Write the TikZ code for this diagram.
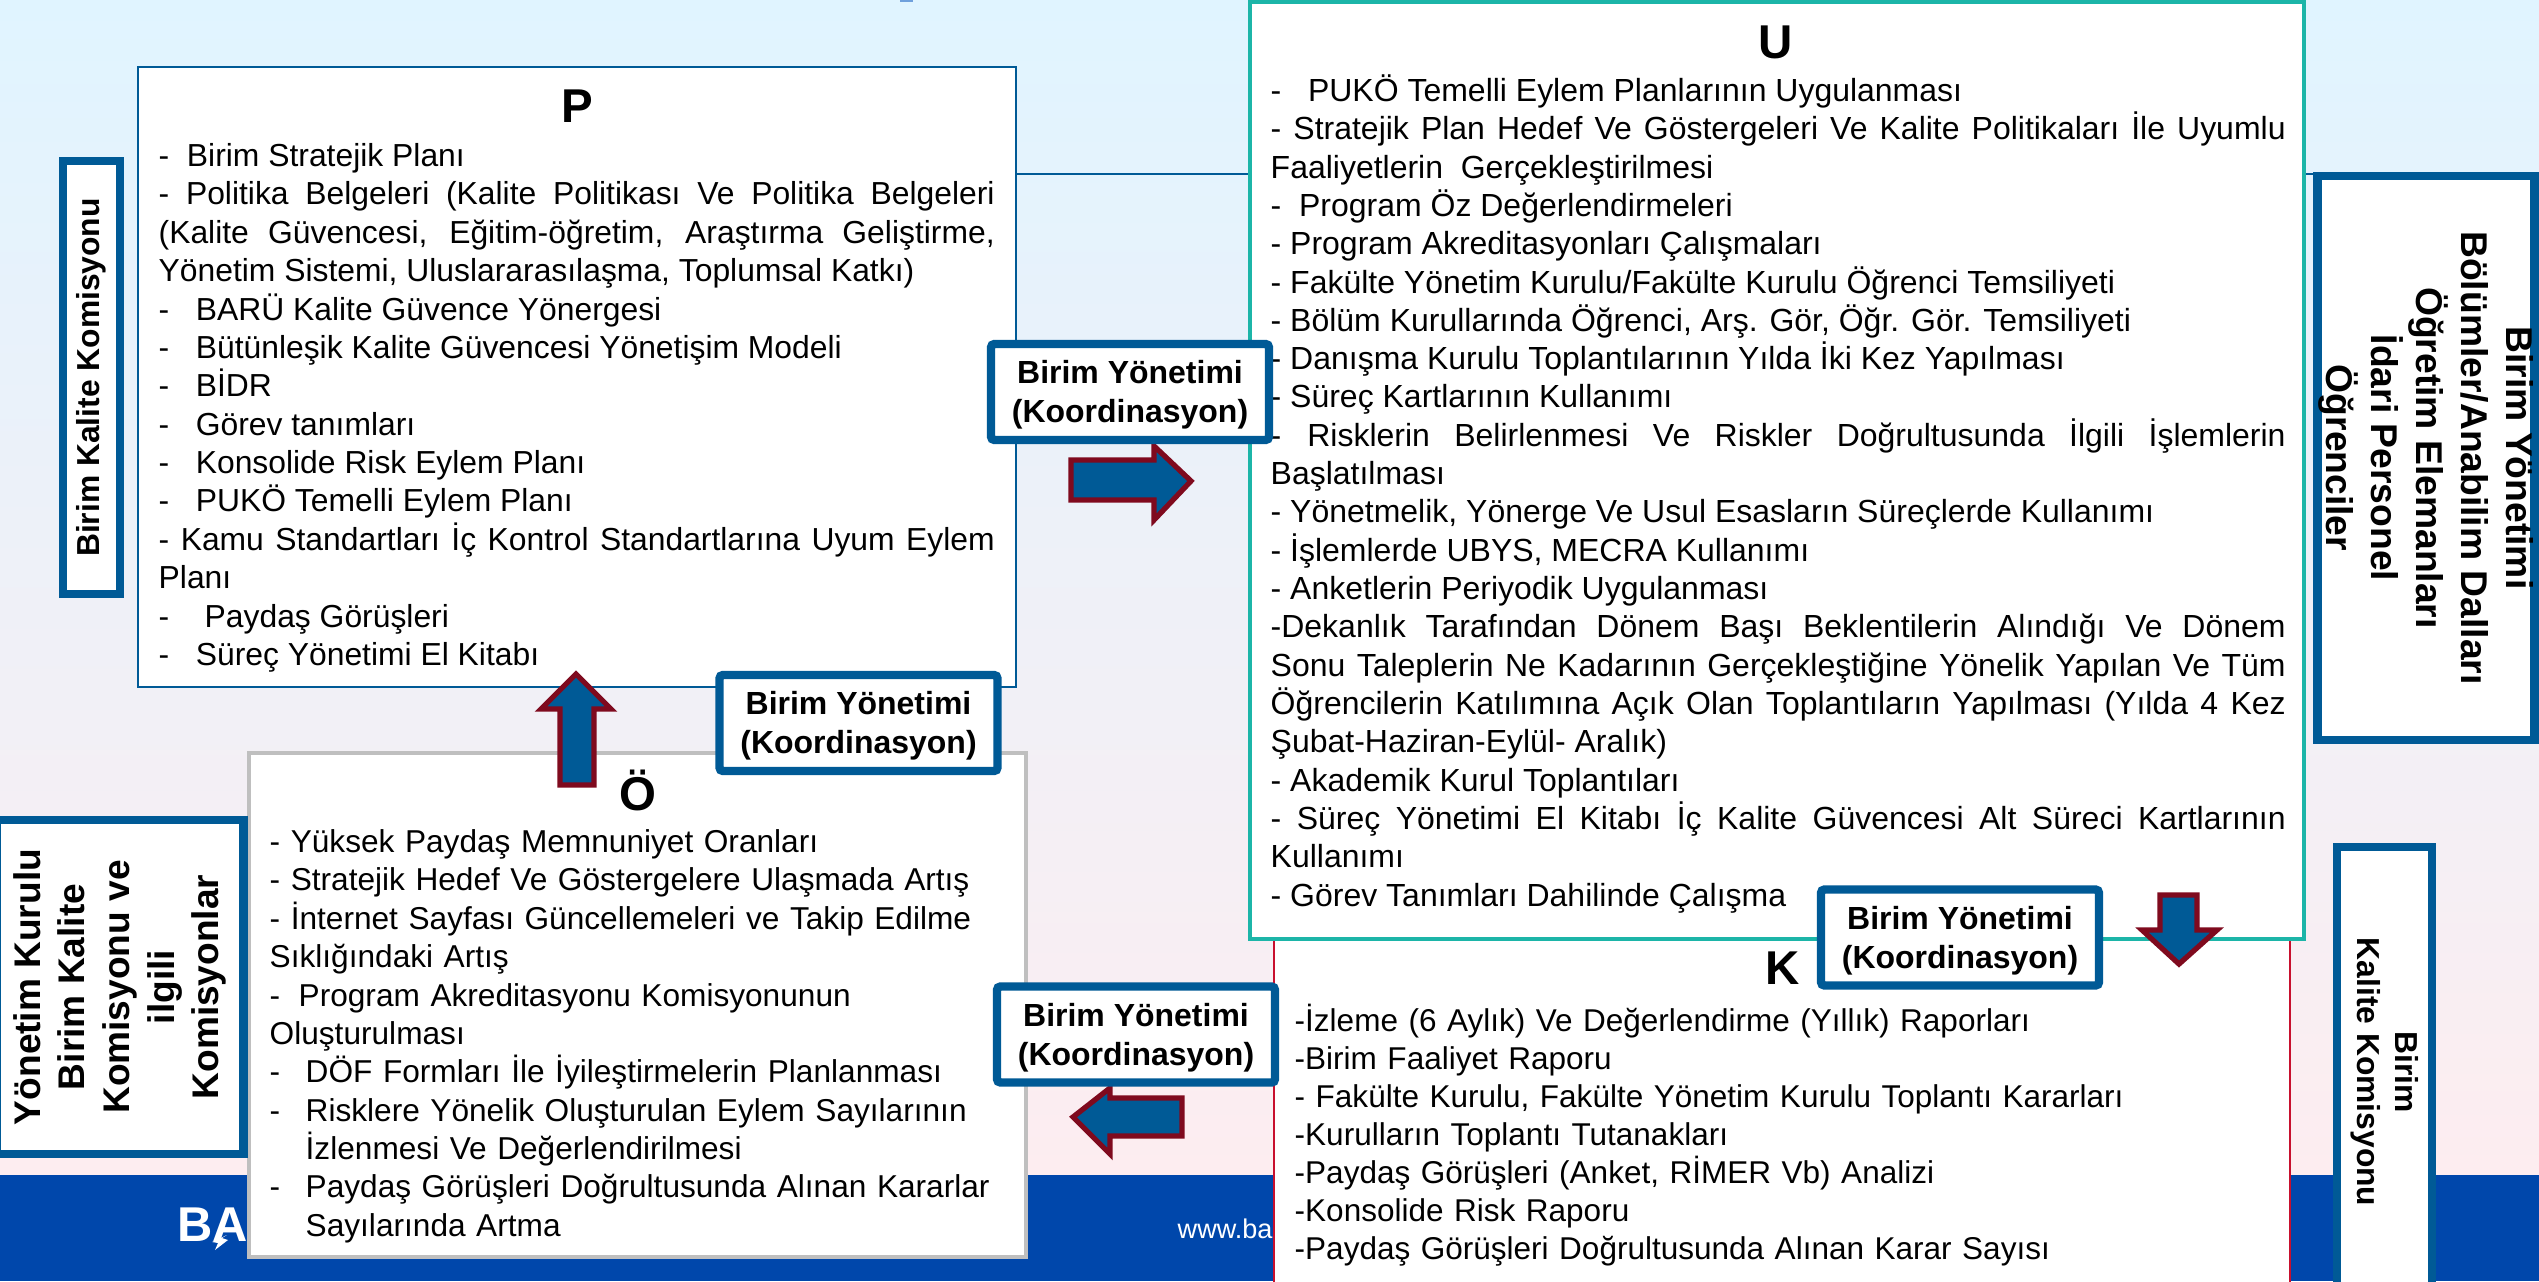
\documentclass[tikz,border=0pt]{standalone}
\usepackage{fontspec}
\setmainfont{Liberation Sans}
\usetikzlibrary{positioning}
\definecolor{topsky}{HTML}{E0F4FF}
\definecolor{lowpink}{HTML}{FDEDF0}
\definecolor{footblue}{HTML}{0047AB}
\definecolor{boxblue}{HTML}{005A96}
\definecolor{tealline}{HTML}{1CB5A8}
\definecolor{redline}{HTML}{C8102E}
\definecolor{arrowred}{HTML}{7F0A1E}
\definecolor{slivercol}{HTML}{6FA0DC}
\newcommand{\bodyfont}[2]{\fontsize{#1}{#2}\selectfont\lineskiplimit=-6pt\hyphenpenalty=10000\exhyphenpenalty=10000\tolerance=9999\emergencystretch=3cm}
\tikzset{
  planbox/.style={fill=white,line width=0.8pt,inner sep=0pt},
  plantitle/.style={font=\fontsize{13.5}{15}\selectfont\bfseries,inner sep=0pt},
  plantext/.style={inner sep=0pt,anchor=north west},
  duzbox/.style={draw=boxblue,fill=white,line width=2.4pt,rounded corners=1pt,minimum width=2.78cm,minimum height=0.96cm},
  duztext/.style={inner sep=0pt,align=center,yshift=-0.03cm,font=\fontsize{9.1}{11}\selectfont\bfseries},
  sidebox/.style={draw=boxblue,fill=white,line width=2.3pt,inner sep=0pt,align=center},
  blockarrow/.style={draw=arrowred,fill=boxblue,line width=1.5pt,miter limit=10},
}
\begin{document}
\begin{tikzpicture}[x=1cm,y=-1cm]
\path[use as bounding box,clip] (0,0) rectangle (25.39,12.81);
\shade[top color=topsky,bottom color=lowpink] (0,0) rectangle (25.39,11.75);
\fill[footblue] (0,11.75) rectangle (25.39,12.81);
\fill[slivercol] (9.0,0) rectangle (9.13,0.015);
\node[font=\fontsize{13.9}{15}\selectfont\bfseries,text=white,anchor=west,inner sep=0pt] (logo) at (1.77,12.25) {BA};
\fill[white] (2.27,12.35) -- (2.12,12.42) -- (2.18,12.43) -- (2.15,12.5) -- (2.28,12.4) -- (2.22,12.38) -- cycle;
\node[font=\fontsize{7.7}{9}\selectfont,text=white,anchor=west,inner sep=0pt] (webaddress) at (11.77,12.29) {www.ba};

\node[planbox,draw=boxblue,minimum width=8.78cm,minimum height=6.2cm] (Pbox) at (5.77,3.77) {};
\node[plantitle] (Ptitle) at (5.77,1.06) {P};
\node[plantext,font=\bodyfont{9.06}{10.92},text width=8.36cm,align=justify] (Ptext) at (1.58,1.39) {\strut
-\ \ Birim Stratejik Planı\par
- Politika Belgeleri (Kalite Politikası Ve Politika Belgeleri (Kalite Güvencesi, Eğitim-öğretim, Araştırma Geliştirme, Yönetim Sistemi, Uluslararasılaşma, Toplumsal Katkı)\par
-\ \ \ BARÜ Kalite Güvence Yönergesi\par
-\ \ \ Bütünleşik Kalite Güvencesi Yönetişim Modeli\par
-\ \ \ BİDR\par
-\ \ \ Görev tanımları\par
-\ \ \ Konsolide Risk Eylem Planı\par
-\ \ \ PUKÖ Temelli Eylem Planı\par
- Kamu Standartları İç Kontrol Standartlarına Uyum Eylem Planı\par
-\ \ \ \ Paydaş Görüşleri\par
-\ \ \ Süreç Yönetimi El Kitabı};

\coordinate (Plink) at (10.16,1.74);
\node[sidebox,minimum width=5.64cm,minimum height=2.17cm,rotate=-90,font=\fontsize{10.6}{12.8}\selectfont\bfseries] (Bolumbox) at (24.26,4.58) {Birim Yönetimi\\Bölümler/Anabilim Dalları\\Öğretim Elemanları\\İdari Personel\\Öğrenciler};
\draw[boxblue,line width=0.8pt] (Plink) -- (Plink -| Bolumbox.north);

\node[planbox,draw=redline,minimum width=10.16cm,minimum height=4.6cm] (Kbox) at (17.82,10.8) {};
\node[plantitle] (Ktitle) at (17.83,9.68) {K};
\node[plantext,font=\bodyfont{8.97}{10.85},text width=9.8cm,align=left] (Ktext) at (12.94,10.03) {\strut
-İzleme (6 Aylık) Ve Değerlendirme (Yıllık) Raporları\\
-Birim Faaliyet Raporu\\
- Fakülte Kurulu, Fakülte Yönetim Kurulu Toplantı Kararları\\
-Kurulların Toplantı Tutanakları\\
-Paydaş Görüşleri (Anket, RİMER Vb) Analizi\\
-Konsolide Risk Raporu\\
-Paydaş Görüşleri Doğrultusunda Alınan Karar Sayısı};

\node[planbox,draw=black!25,line width=1.2pt,minimum width=7.77cm,minimum height=5.04cm] (Obox) at (6.375,10.05) {};
\node[plantitle] (Otitle) at (6.38,7.9) {Ö};
\node[plantext,font=\bodyfont{9.0}{10.92},text width=7.5cm,align=left] (Otext) at (2.69,8.25) {\strut
- Yüksek Paydaş Memnuniyet Oranları\\
- Stratejik Hedef Ve Göstergelere Ulaşmada Artış\\
- İnternet Sayfası Güncellemeleri ve Takip Edilme\\
Sıklığındaki Artış\\
\makebox[0.29cm][l]{-}Program Akreditasyonu Komisyonunun\\
Oluşturulması\\
\makebox[0.36cm][l]{-}DÖF Formları İle İyileştirmelerin Planlanması\\
\makebox[0.36cm][l]{-}Risklere Yönelik Oluşturulan Eylem Sayılarının\\
\hspace*{0.36cm}İzlenmesi Ve Değerlendirilmesi\\
\makebox[0.36cm][l]{-}Paydaş Görüşleri Doğrultusunda Alınan Kararlar\\
\hspace*{0.36cm}Sayılarında Artma};

\node[planbox,draw=tealline,line width=1pt,minimum width=10.54cm,minimum height=9.37cm] (Ubox) at (17.77,4.705) {};
\node[plantitle] (Utitle) at (17.76,0.42) {U};
\node[plantext,font=\bodyfont{9.1}{10.9},text width=10.15cm,align=justify] (Utext) at (12.7,0.74) {\strut
-\ \ \ PUKÖ Temelli Eylem Planlarının Uygulanması\par
- Stratejik Plan Hedef Ve Göstergeleri Ve Kalite Politikaları İle Uyumlu Faaliyetlerin\ \ Gerçekleştirilmesi\par
-\ \ Program Öz Değerlendirmeleri\par
- Program Akreditasyonları Çalışmaları\par
- Fakülte Yönetim Kurulu/Fakülte Kurulu Öğrenci Temsiliyeti\par
- Bölüm Kurullarında Öğrenci, Arş. Gör, Öğr. Gör. Temsiliyeti\par
- Danışma Kurulu Toplantılarının Yılda İki Kez Yapılması\par
- Süreç Kartlarının Kullanımı\par
-\hspace{0.26cm}Risklerin Belirlenmesi Ve Riskler Doğrultusunda İlgili İşlemlerin Başlatılması\par
- Yönetmelik, Yönerge Ve Usul Esasların Süreçlerde Kullanımı\par
- İşlemlerde UBYS, MECRA Kullanımı\par
- Anketlerin Periyodik Uygulanması\par
-Dekanlık Tarafından Dönem Başı Beklentilerin Alındığı Ve Dönem Sonu Taleplerin Ne Kadarının Gerçekleştiğine Yönelik Yapılan Ve Tüm Öğrencilerin Katılımına Açık Olan Toplantıların Yapılması (Yılda 4 Kez Şubat-Haziran-Eylül- Aralık)\par
- Akademik Kurul Toplantıları\par
- Süreç Yönetimi El Kitabı İç Kalite Güvencesi Alt Süreci Kartlarının Kullanımı\par
- Görev Tanımları Dahilinde Çalışma};

\node[sidebox,minimum width=4.33cm,minimum height=0.57cm,rotate=90,font=\fontsize{9.05}{10.8}\selectfont\bfseries] (Komisyonbox) at (0.915,3.775) {Birim Kalite Komisyonu};
\node[sidebox,minimum width=3.34cm,minimum height=2.47cm,rotate=90,font=\fontsize{10.55}{12.7}\selectfont\bfseries] (Yonetimbox) at (1.2,9.87) {Yönetim Kurulu\\Birim Kalite\\Komisyonu ve\\ilgili\\Komisyonlar};
\node[sidebox,minimum width=4.5cm,minimum height=0.95cm,rotate=-90,font=\fontsize{9.05}{10.7}\selectfont\bfseries] (Kalitebox) at (23.845,10.72) {Birim\\Kalite Komisyonu};

\draw[blockarrow] (10.71,4.6) -- (11.54,4.6) -- (11.54,4.46) -- (11.91,4.81) -- (11.54,5.2) -- (11.54,5.0) -- (10.71,5.0) -- cycle;
\draw[blockarrow] (5.6,7.85) -- (5.6,7.09) -- (5.41,7.09) -- (5.76,6.74) -- (6.11,7.09) -- (5.94,7.09) -- (5.94,7.85) -- cycle;
\draw[blockarrow] (11.82,10.98) -- (11.1,10.98) -- (11.1,10.88) -- (10.73,11.17) -- (11.1,11.54) -- (11.1,11.36) -- (11.82,11.36) -- cycle;
\draw[blockarrow] (21.6,8.95) -- (21.97,8.95) -- (21.97,9.3) -- (22.17,9.3) -- (21.79,9.64) -- (21.42,9.3) -- (21.6,9.3) -- cycle;

\node[duzbox] (Duzen1) at (11.3,3.92) {};
\node[duztext] (Duzen1text) at (Duzen1) {Birim Yönetimi\\(Koordinasyon)};
\node[duzbox] (Duzen2) at (8.585,7.23) {};
\node[duztext] (Duzen2text) at (Duzen2) {Birim Yönetimi\\(Koordinasyon)};
\node[duzbox] (Duzen3) at (11.36,10.345) {};
\node[duztext] (Duzen3text) at (Duzen3) {Birim Yönetimi\\(Koordinasyon)};
\node[duzbox] (Duzen4) at (19.6,9.375) {};
\node[duztext] (Duzen4text) at (Duzen4) {Birim Yönetimi\\(Koordinasyon)};
\end{tikzpicture}
\end{document}
